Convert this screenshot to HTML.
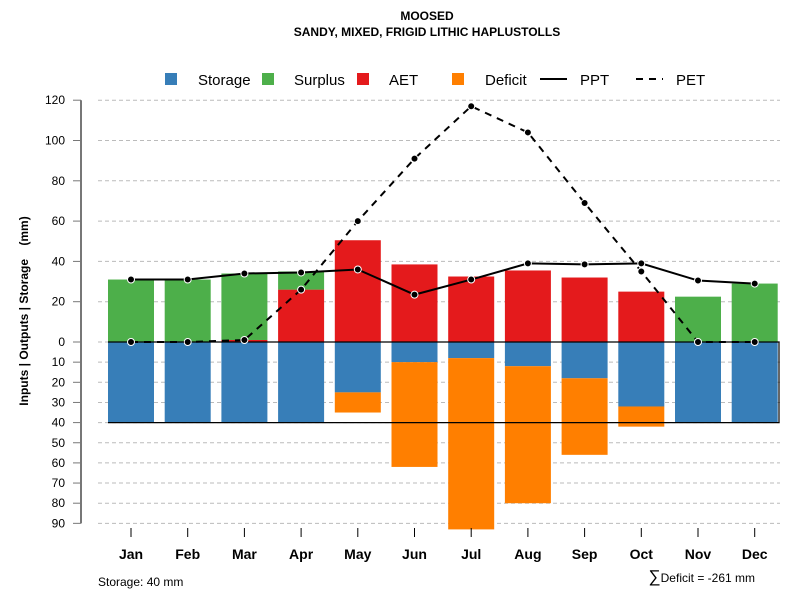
<!DOCTYPE html>
<html><head><meta charset="utf-8"><style>
body{margin:0;background:#fff}
svg{font-family:"Liberation Sans",sans-serif}
</style></head><body>
<svg id="c" width="800" height="600">
<text x="427" y="20" text-anchor="middle" font-size="12" font-weight="bold">MOOSED</text>
<text x="427" y="36" text-anchor="middle" font-size="12" font-weight="bold">SANDY, MIXED, FRIGID LITHIC HAPLUSTOLLS</text>
<g id="legend">
<rect x="165" y="73" width="12" height="12" fill="#377eb8"/>
<text x="198" y="85" font-size="15">Storage</text>
<rect x="262" y="73" width="12" height="12" fill="#4daf4a"/>
<text x="294" y="85" font-size="15">Surplus</text>
<rect x="357" y="73" width="12" height="12" fill="#e41a1c"/>
<text x="389" y="85" font-size="15">AET</text>
<rect x="452" y="73" width="12" height="12" fill="#ff7f00"/>
<text x="485" y="85" font-size="15">Deficit</text>
<line x1="540" y1="79" x2="567" y2="79" stroke="#000" stroke-width="2"/>
<text x="580" y="85" font-size="15">PPT</text>
<line x1="636" y1="79" x2="663" y2="79" stroke="#000" stroke-width="2" stroke-dasharray="7,6"/>
<text x="676" y="85" font-size="15">PET</text>
</g>
<text transform="translate(28,311) rotate(-90)" text-anchor="middle" font-size="12" font-weight="bold" xml:space="preserve">Inputs | Outputs | Storage    (mm)</text>
<text x="98" y="586" font-size="12">Storage: 40 mm</text>
<text x="755" y="582" text-anchor="end" font-size="12"><tspan font-size="17">∑</tspan>Deficit = -261 mm</text>
</svg>
<script>
const months=["Jan","Feb","Mar","Apr","May","Jun","Jul","Aug","Sep","Oct","Nov","Dec"];
const storage=[40,40,40,40,25,10,8,12,18,32,40,40];
const deficit=[0,0,0,0,10,52,85,68,38,10,0,0];
const aet=[0,0,1,26,50.5,38.5,32.5,35.5,32,25,0,0];
const surplus=[31,31,33,9,0,0,0,0,0,0,22.5,29];
const ppt=[31,31,34,34.5,36,23.5,31,39,38.5,39,30.5,29];
const pet=[0,0,1,26,60,91,117,104,69,35,0,0];
const upTicks=[0,20,40,60,80,100,120];
const downTicks=[10,20,30,40,50,60,70,80,90];
const svg=document.getElementById('c');
const NS='http://www.w3.org/2000/svg';
const y0=342,k=2.015;
const yU=v=>y0-v*k, yD=v=>y0+v*k;
const xC=i=>131+i*56.7, bw=46;
function mk(t,a,p){const e=document.createElementNS(NS,t);for(const n in a)e.setAttribute(n,a[n]);(p||svg).appendChild(e);return e;}
const grid=mk('g',{});


upTicks.forEach(v=>{const l=mk('line',{x1:98,x2:780,y1:yU(v),y2:yU(v),stroke:'#bbb','stroke-dasharray':'4,3'},grid);


const t=mk('text',{x:65,y:yU(v)+4,'text-anchor':'end','font-size':12});t.textContent=v;


mk('line',{x1:73,x2:81,y1:yU(v),y2:yU(v),stroke:'#777'});});
downTicks.forEach(v=>{const l=mk('line',{x1:98,x2:780,y1:yD(v),y2:yD(v),stroke:'#bbb','stroke-dasharray':'4,3'},grid);


const t=mk('text',{x:65,y:yD(v)+4,'text-anchor':'end','font-size':12});t.textContent=v;


mk('line',{x1:73,x2:81,y1:yD(v),y2:yD(v),stroke:'#777'});});
const ax=mk('line',{x1:81,x2:81,y1:yU(120),y2:yD(90),stroke:'#777','stroke-width':2});


months.forEach((m,i)=>{const x=xC(i)-bw/2;
let r=mk('rect',{x:x,y:y0,width:bw,height:storage[i]*k,fill:'#377eb8'});


r=mk('rect',{x:x,y:yD(storage[i]),width:bw,height:deficit[i]*k,fill:'#ff7f00'});


r=mk('rect',{x:x,y:yU(aet[i]),width:bw,height:aet[i]*k,fill:'#e41a1c'});


r=mk('rect',{x:x,y:yU(aet[i]+surplus[i]),width:bw,height:surplus[i]*k,fill:'#4daf4a'});


mk('line',{x1:xC(i),x2:xC(i),y1:528,y2:537,stroke:'#000'});
const t=mk('text',{x:xC(i),y:559,'text-anchor':'middle','font-size':14,'font-weight':'bold'});t.textContent=m;

});
const fr=mk('path',{d:`M108 ${y0} H779 V${yD(40)} H108`,fill:'none',stroke:'#000','stroke-width':1.2});


function series(arr,name,dash){
const p=mk('polyline',{points:arr.map((v,i)=>xC(i)+','+yU(v)).join(' '),fill:'none',stroke:'#000','stroke-width':2,'stroke-dasharray':dash||'none'});


arr.forEach((v,i)=>{const c=mk('circle',{cx:xC(i),cy:yU(v),r:3.5,fill:'#000',stroke:'#fff','stroke-width':1});

});}
series(pet,'pet','7,6');
series(ppt,'ppt');
</script>
</body></html>
